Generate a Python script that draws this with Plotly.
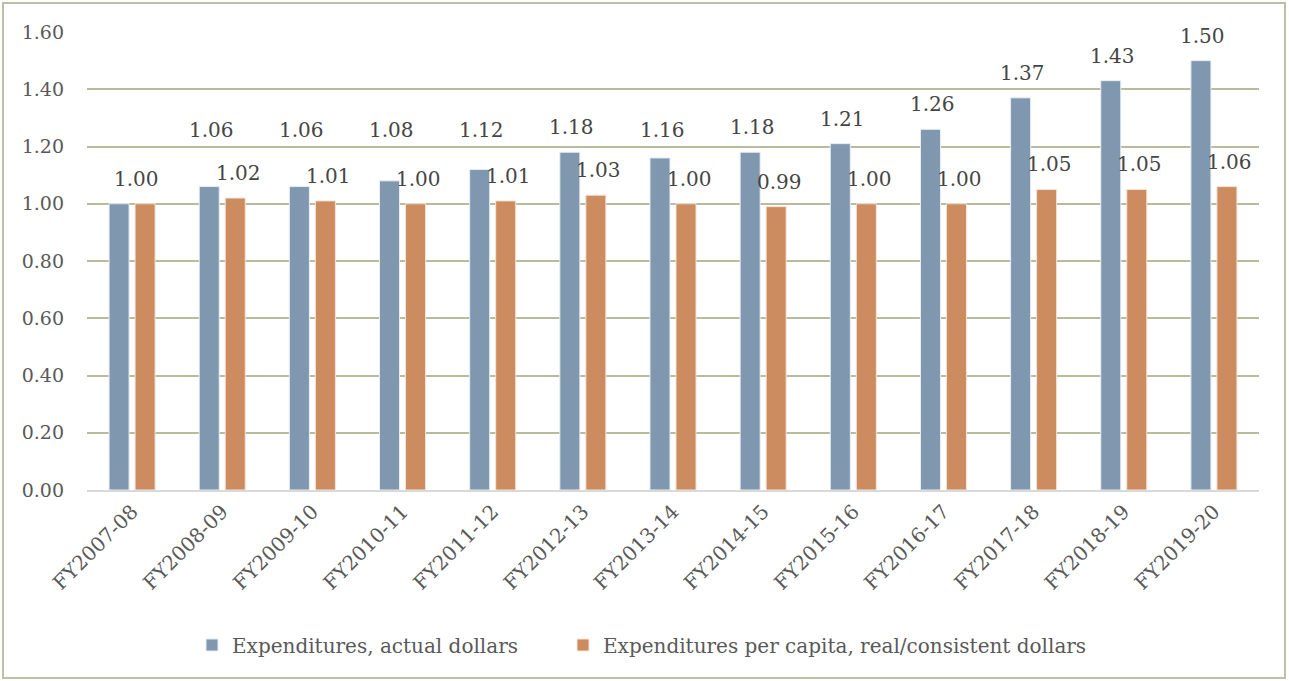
import plotly.graph_objects as go

categories = ["FY2007-08", "FY2008-09", "FY2009-10", "FY2010-11", "FY2011-12",
              "FY2012-13", "FY2013-14", "FY2014-15", "FY2015-16", "FY2016-17",
              "FY2017-18", "FY2018-19", "FY2019-20"]
actual = [1.00, 1.06, 1.06, 1.08, 1.12, 1.18, 1.16, 1.18, 1.21, 1.26, 1.37, 1.43, 1.50]
per_capita = [1.00, 1.02, 1.01, 1.00, 1.01, 1.03, 1.00, 0.99, 1.00, 1.00, 1.05, 1.05, 1.06]
y_ticks = [0.0, 0.2, 0.4, 0.6, 0.8, 1.0, 1.2, 1.4, 1.6]

name_actual = "Expenditures, actual dollars"
name_pc = "Expenditures per capita, real/consistent dollars"

BLUE = "#7F97AF"
ORANGE = "#CD8C5F"
FONT = "DejaVu Serif"
W, H = 1289, 681
L, R, T, B = 87, 30, 32, 191

fig = go.Figure()
fig.add_trace(go.Bar(x=categories, y=actual, name=name_actual, legend="legend",
                     marker=dict(color=BLUE, line=dict(color="#E8EEF4", width=1))))
fig.add_trace(go.Bar(x=categories, y=per_capita, name=name_pc, legend="legend2",
                     marker=dict(color=ORANGE, line=dict(color="#F4E4DA", width=1))))

# Data labels (blue labels raised to clear the orange labels, as in the reference)
label_font = dict(family=FONT, size=20, color="#454545")
raise_level = 1.17
for c, a, p in zip(categories, actual, per_capita):
    if a == p:
        fig.add_annotation(x=c, y=a, text=f"{a:.2f}", showarrow=False, yanchor="middle",
                           xshift=4, yshift=25, font=label_font)
        continue
    fig.add_annotation(x=c, y=max(a, raise_level), text=f"{a:.2f}", showarrow=False,
                       yanchor="middle", xshift=-11, yshift=25, font=label_font)
    fig.add_annotation(x=c, y=p, text=f"{p:.2f}", showarrow=False,
                       yanchor="middle", xshift=16, yshift=25, font=label_font)

# outer border of the chart
pw, ph = W - L - R, H - T - B
fig.add_shape(type="rect", xref="paper", yref="paper",
              x0=(3 - L) / pw, x1=(W - 4 - L) / pw,
              y0=(H - B - (H - 3)) / ph, y1=(H - B - 3) / ph,
              line=dict(color="#BCC0A4", width=2), fillcolor="rgba(0,0,0,0)", layer="below")

legend_font = dict(family=FONT, size=20, color="#595959")
legend_y = (H - B - 645) / ph
fig.update_layout(
    width=W, height=H,
    margin=dict(l=L, r=R, t=T, b=B),
    paper_bgcolor="white", plot_bgcolor="white",
    barmode="group", bargap=0.423, bargroupgap=0.23,
    font=dict(family=FONT, size=20, color="#595959"),
    showlegend=True,
    legend=dict(orientation="h", x=(232 - 40 - L) / pw, xanchor="left", y=legend_y,
                yanchor="middle", font=legend_font, itemwidth=30),
    legend2=dict(orientation="h", x=(603 - 40 - L) / pw, xanchor="left", y=legend_y,
                 yanchor="middle", font=legend_font, itemwidth=30),
    xaxis=dict(tickangle=-45, showgrid=False, showline=True, linecolor="#D9D9D9",
               linewidth=2, ticks="", tickfont=dict(family=FONT, size=20, color="#595959")),
    yaxis=dict(range=[0, 1.6], tickvals=y_ticks, tickformat=".2f", showgrid=True,
               gridcolor="#B8BC9C", gridwidth=2, zeroline=False, showline=False,
               ticks="", ticklabelstandoff=22,
               tickfont=dict(family=FONT, size=19, color="#595959")),
)

fig.write_html("out.html", config={"displayModeBar": False},
               post_script="document.body.style.margin='0px';")
